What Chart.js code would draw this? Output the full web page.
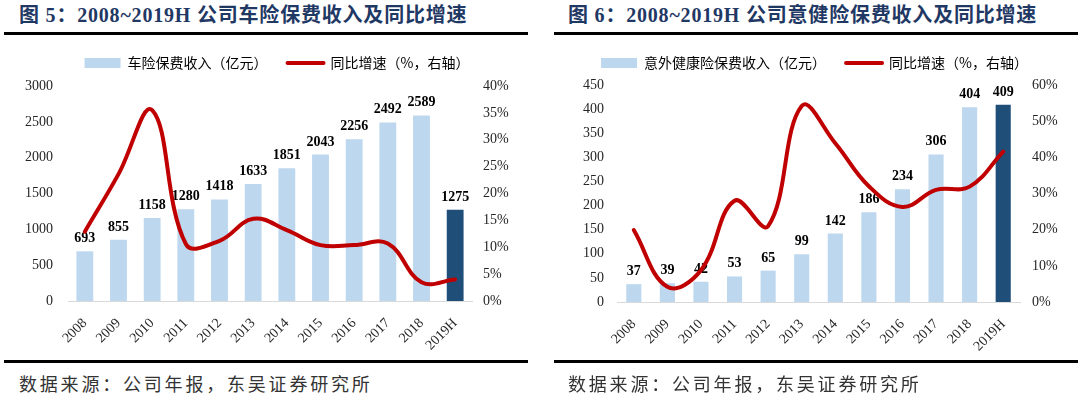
<!DOCTYPE html>
<html>
<head>
<meta charset="utf-8">
<script src="https://cdn.jsdelivr.net/npm/chart.js@4/dist/chart.umd.min.js"></script>
<style>
  html, body { margin: 0; padding: 0; background: #fff; }
  body { width: 1080px; height: 395px; position: relative; overflow: hidden; }
  .title { position: absolute; top: 4px; font: bold 20px "Liberation Serif", "Noto Sans CJK SC", serif; color: #1f3864; white-space: nowrap; letter-spacing: 0.8px; line-height: 22px; }
  .rule { position: absolute; height: 3px; background: #000; }
  .source { position: absolute; top: 372px; font: 18px "Noto Sans CJK SC", sans-serif; color: #333; letter-spacing: 2.8px; line-height: 22px; white-space: nowrap; }
  canvas { position: absolute; }
</style>
</head>
<body>
<div class="title" style="left:19px">图 5：2008~2019H 公司车险保费收入及同比增速</div>
<div class="rule" style="left:4px;width:524px;top:32px"></div>
<div class="title" style="left:568px">图 6：2008~2019H 公司意健险保费收入及同比增速</div>
<div class="rule" style="left:554px;width:524px;top:32px"></div>

<canvas id="carChart" width="554" height="315" style="left:0;top:36px"></canvas>
<canvas id="ahChart" width="531" height="316" style="left:549px;top:36px"></canvas>

<div class="rule" style="left:4px;width:524px;top:360px"></div>
<div class="source" style="left:19px">数据来源：公司年报，东吴证券研究所</div>
<div class="rule" style="left:554px;width:524px;top:360px"></div>
<div class="source" style="left:568px">数据来源：公司年报，东吴证券研究所</div>

<script>
// Data
const categories = ["2008", "2009", "2010", "2011", "2012", "2013", "2014", "2015", "2016", "2017", "2018", "2019H"];
const carPremium = [693, 855, 1158, 1280, 1418, 1633, 1851, 2043, 2256, 2492, 2589, 1275];
const carGrowth = [12.9, 23.6, 35.5, 10.6, 11.2, 15.3, 13.2, 10.4, 10.4, 10.7, 3.5, 4.0];
const ahPremium = [37, 39, 42, 53, 65, 99, 142, 186, 234, 306, 404, 409];
const ahGrowth = [19.9, 4.2, 8.8, 28.0, 21.0, 54.2, 43.9, 32.0, 26.3, 31.0, 31.9, 41.6];
const carAxis = [0, 3000, 500];   // min, max, step (left)
const carPctAxis = [0, 40, 5];    // min, max, step (right, %)
const ahAxis = [0, 450, 50];
const ahPctAxis = [0, 60, 10];

const LIGHT = "#bdd7ee";
const DARK = "#1f4e79";
const RED = "#c00000";
const serif = '"Liberation Serif", "Times New Roman", serif';

// push the plot down below the legend
const legendGap = {
  id: "legendGap",
  afterInit(chart, args, opts) {
    const legend = chart.legend;
    if (!legend) return;
    const fit = legend.fit;
    legend.fit = function () {
      fit.call(this);
      this.height += opts.gap;
    };
  },
};

// value labels on top of bars, drawn before the line
const barLabels = {
  id: "barLabels",
  afterDatasetDraw(chart, args) {
    if (args.index !== 0) return;
    const ctx = chart.ctx;
    ctx.save();
    ctx.font = "bold 14px " + serif;
    ctx.fillStyle = "#000";
    ctx.textAlign = "center";
    ctx.textBaseline = "alphabetic";
    args.meta.data.forEach((bar, i) => {
      ctx.fillText(chart.data.datasets[0].data[i], bar.x, bar.y - 9);
    });
    ctx.restore();
  },
};

function makeChart(id, barName, bars, growth, axis, pctAxis, o) {
  const barColors = categories.map((c) => (c === "2019H" ? DARK : LIGHT));
  return new Chart(document.getElementById(id), {
    type: "bar",
    data: {
      labels: categories,
      datasets: [
        {
          type: "bar",
          label: barName,
          data: bars,
          backgroundColor: barColors,
          barPercentage: o.barPct,
          categoryPercentage: 1,
          yAxisID: "y",
          order: 1,
        },
        {
          type: "line",
          label: "同比增速（%，右轴）",
          data: growth,
          borderColor: RED,
          borderWidth: 4,
          borderCapStyle: "round",
          tension: 0.4,
          pointRadius: 0,
          fill: false,
          yAxisID: "y1",
          order: 0,
        },
      ],
    },
    options: {
      responsive: false,
      animation: false,
      layout: { padding: 0 },
      plugins: {
        tooltip: { enabled: false },
        legendGap: { gap: o.gap },
        legend: {
          position: "top",
          labels: {
            usePointStyle: true,
            pointStyleWidth: 36,
            boxHeight: 10,
            padding: 20,
            color: "#333",
            font: { family: '"Noto Sans CJK SC", sans-serif', size: 14 },
            generateLabels: () => [
              { text: barName, fillStyle: LIGHT, strokeStyle: LIGHT, lineWidth: 0, pointStyle: "rect", datasetIndex: 0 },
              { text: "同比增速（%，右轴）", fillStyle: RED, strokeStyle: RED, lineWidth: 4, lineCap: "round", pointStyle: "line", datasetIndex: 1 },
            ],
          },
        },
      },
      scales: {
        x: {
          grid: { display: false },
          border: { display: true, color: "#d9d9d9", width: 1 },
          ticks: {
            minRotation: 45,
            maxRotation: 45,
            autoSkip: false,
            padding: 6,
            color: "#262626",
            font: { family: serif, size: 14 },
          },
          afterFit: (s) => { s.height = o.xHeight; },
        },
        y: {
          position: "left",
          min: axis[0],
          max: axis[1],
          grid: { display: false, drawTicks: false },
          border: { display: false },
          ticks: {
            stepSize: axis[2],
            padding: o.leftPad,
            color: "#262626",
            font: { family: serif, size: 14 },
            callback: (v) => String(v),
          },
          afterFit: (s) => { s.width = o.leftWidth; },
        },
        y1: {
          position: "right",
          min: pctAxis[0],
          max: pctAxis[1],
          grid: { display: false, drawTicks: false },
          border: { display: false },
          ticks: {
            stepSize: pctAxis[2],
            padding: o.rightPad,
            color: "#262626",
            font: { family: serif, size: 14 },
            callback: (v) => v + "%",
          },
          afterFit: (s) => { s.width = o.rightWidth; },
        },
      },
    },
    plugins: [legendGap, barLabels],
  });
}

makeChart("carChart", "车险保费收入（亿元）", carPremium, carGrowth, carAxis, carPctAxis,
  { barPct: 0.5, gap: 6, xHeight: 50, leftWidth: 68, leftPad: 15, rightWidth: 82, rightPad: 11 });
makeChart("ahChart", "意外健康险保费收入（亿元）", ahPremium, ahGrowth, ahAxis, ahPctAxis,
  { barPct: 0.45, gap: 5, xHeight: 50, leftWidth: 68, leftPad: 13, rightWidth: 60, rightPad: 12 });
</script>
</body>
</html>
